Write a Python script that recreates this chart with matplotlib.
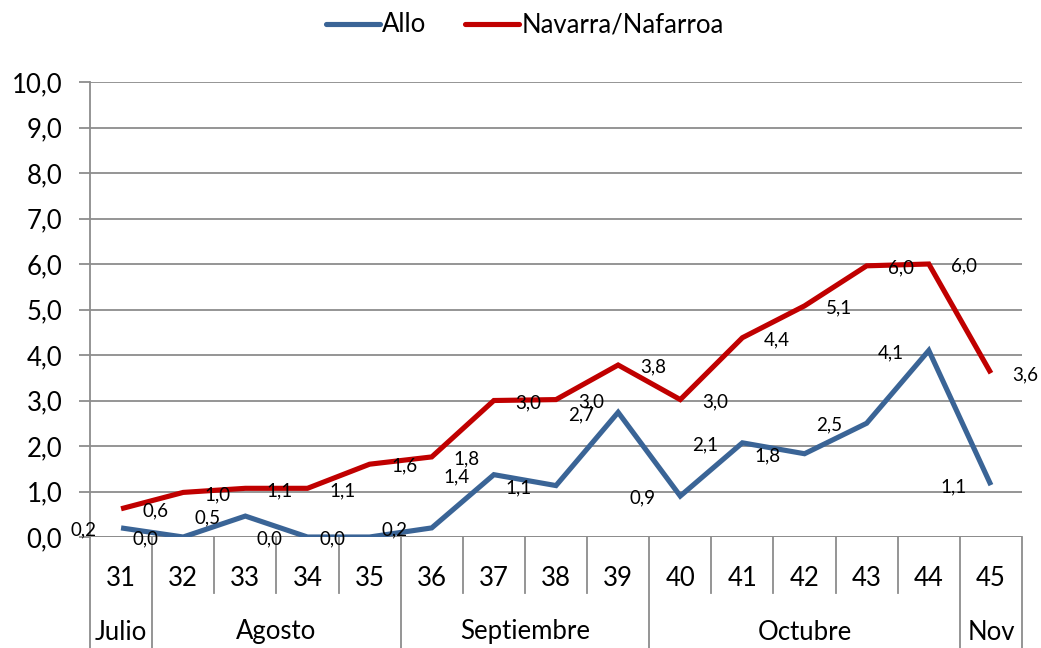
import numpy as np
import matplotlib.pyplot as plt
from matplotlib.lines import Line2D

plt.rcParams['font.family'] = ['Lato', 'DejaVu Sans']

semanas = ['31', '32', '33', '34', '35', '36', '37', '38', '39', '40', '41', '42', '43', '44', '45']
allo = [0.2, 0.0, 0.46, 0.0, 0.0, 0.2, 1.37, 1.13, 2.74, 0.9, 2.07, 1.83, 2.5, 4.1, 1.14]
navarra = [0.62, 0.98, 1.07, 1.07, 1.6, 1.76, 3.0, 3.02, 3.78, 3.02, 4.38, 5.08, 5.96, 6.0, 3.6]
meses = ['Julio', 'Agosto', 'Septiembre', 'Octubre', 'Nov']
semanas_mes = [1, 4, 4, 5, 1]

azul = '#3A6496'
rojo = '#C00000'
gris = '#8C8C8C'


def fmt(v):
    return f'{v:.1f}'.replace('.', ',')


fig = plt.figure(figsize=(10.41, 6.48), dpi=100)
ax = fig.add_axes([90/1041, 1-537/648, 932/1041, 455/648])

x = np.arange(len(semanas))
ax.plot(x, allo, color=azul, lw=3.7, solid_joinstyle='miter', solid_capstyle='butt', zorder=3)
ax.plot(x, navarra, color=rojo, lw=3.7, solid_joinstyle='miter', solid_capstyle='butt', zorder=3)

for i, v in enumerate(allo):
    ax.annotate(fmt(v), (i, v), xytext=(-27, -1.5), textcoords='offset points',
                ha='center', va='center', fontsize=13.5, zorder=4)
for i, v in enumerate(navarra):
    ax.annotate(fmt(v), (i, v), xytext=(25, -1.5), textcoords='offset points',
                ha='center', va='center', fontsize=13.5, zorder=4)

ax.set_xlim(-0.5, len(semanas) - 0.5)
ax.set_ylim(0, 10)
ax.set_yticks(np.arange(0, 11, 1))
ax.set_yticklabels([fmt(v) for v in np.arange(0, 11, 1)], fontsize=18.5)
ax.yaxis.grid(True, color=gris, lw=1.3)
ax.tick_params(axis='y', length=8, width=1.3, color=gris, pad=12)
ax.set_xticks([])

for s in ['top', 'right', 'bottom']:
    ax.spines[s].set_visible(False)
ax.spines['left'].set_color(gris)
ax.spines['left'].set_linewidth(1.3)

# eje de categorias en dos niveles
trans = ax.get_xaxis_transform()
fila1 = -(593 - 537) / 455
fondo = -(648 - 537) / 455
ax.axhline(0, color=gris, lw=1.3, zorder=2)
for i, s in enumerate(semanas):
    ax.text(i, -(578 - 537) / 455, s, transform=trans, ha='center', va='center', fontsize=18.5)
limites = np.cumsum([0] + semanas_mes) - 0.5
for b in np.arange(len(semanas) + 1) - 0.5:
    if b in limites:
        ax.plot([b, b], [0, fondo], transform=trans, color=gris, lw=1.3, clip_on=False)
    else:
        ax.plot([b, b], [0, fila1], transform=trans, color=gris, lw=1.3, clip_on=False)
for k, m in enumerate(meses):
    c = (limites[k] + limites[k + 1]) / 2
    ax.text(c, -(632 - 537) / 455, m, transform=trans, ha='center', va='center', fontsize=18.5)

handles = [Line2D([], [], color=azul, lw=3.7, solid_capstyle='round'),
           Line2D([], [], color=rojo, lw=3.7, solid_capstyle='round')]
fig.legend(handles, ['Allo', 'Navarra/Nafarroa'], loc='center', bbox_to_anchor=(0.504, 1 - 25/648),
           ncol=2, frameon=False, fontsize=18.5, handlelength=2.1, handletextpad=0.1, columnspacing=1.5)

fig.savefig('out.png', dpi=100)
